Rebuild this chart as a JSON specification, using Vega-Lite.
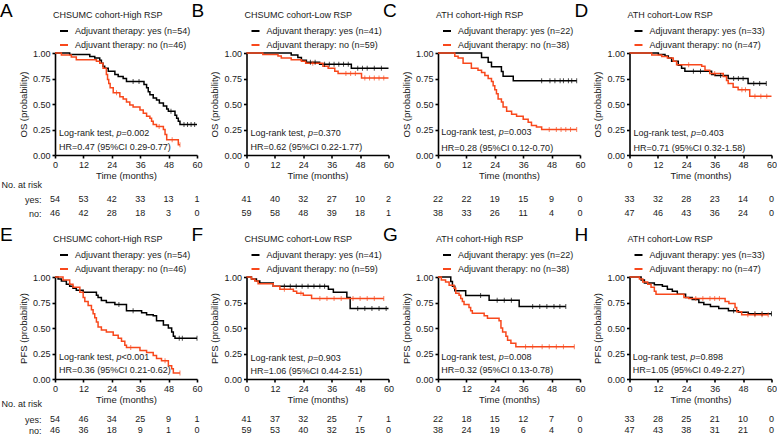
{
"$schema": "https://vega.github.io/schema/vega-lite/v6.json",
"background": "white",
"padding": {"left": 0, "top": 2, "right": 0, "bottom": 0},
"datasets": {
"km": [
{"p":"A","g":"yes","t":0,"s":1},{"p":"A","g":"yes","t":6.2,"s":0.985},{"p":"A","g":"yes","t":14.7,"s":0.965},{"p":"A","g":"yes","t":16.8,"s":0.95},{"p":"A","g":"yes","t":18.9,"s":0.93},{"p":"A","g":"yes","t":19.6,"s":0.9},{"p":"A","g":"yes","t":20.3,"s":0.87},{"p":"A","g":"yes","t":21,"s":0.85},{"p":"A","g":"yes","t":22.5,"s":0.82},{"p":"A","g":"yes","t":25.3,"s":0.79},{"p":"A","g":"yes","t":26.7,"s":0.77},{"p":"A","g":"yes","t":28.8,"s":0.75},{"p":"A","g":"yes","t":30.2,"s":0.72},{"p":"A","g":"yes","t":37.6,"s":0.69},{"p":"A","g":"yes","t":38.7,"s":0.66},{"p":"A","g":"yes","t":39.4,"s":0.62},{"p":"A","g":"yes","t":40.1,"s":0.59},{"p":"A","g":"yes","t":41.5,"s":0.56},{"p":"A","g":"yes","t":42.9,"s":0.54},{"p":"A","g":"yes","t":44.1,"s":0.51},{"p":"A","g":"yes","t":45.8,"s":0.48},{"p":"A","g":"yes","t":47.2,"s":0.45},{"p":"A","g":"yes","t":47.9,"s":0.43},{"p":"A","g":"yes","t":50.7,"s":0.39},{"p":"A","g":"yes","t":51.4,"s":0.36},{"p":"A","g":"yes","t":52.1,"s":0.33},{"p":"A","g":"yes","t":52.8,"s":0.3},{"p":"A","g":"yes","t":60,"s":0.3},
{"p":"A","g":"yes","t":33,"s":0.72,"c":1},{"p":"A","g":"yes","t":35.5,"s":0.72,"c":1},{"p":"A","g":"yes","t":49,"s":0.43,"c":1},{"p":"A","g":"yes","t":54.5,"s":0.3,"c":1},{"p":"A","g":"yes","t":56,"s":0.3,"c":1},{"p":"A","g":"yes","t":57.5,"s":0.3,"c":1},{"p":"A","g":"yes","t":59,"s":0.3,"c":1},
{"p":"A","g":"no","t":0,"s":1},{"p":"A","g":"no","t":2.7,"s":0.98},{"p":"A","g":"no","t":6.9,"s":0.96},{"p":"A","g":"no","t":9,"s":0.935},{"p":"A","g":"no","t":17.5,"s":0.92},{"p":"A","g":"no","t":18.9,"s":0.9},{"p":"A","g":"no","t":20.3,"s":0.85},{"p":"A","g":"no","t":21.7,"s":0.79},{"p":"A","g":"no","t":22.2,"s":0.74},{"p":"A","g":"no","t":22.7,"s":0.7},{"p":"A","g":"no","t":23.3,"s":0.66},{"p":"A","g":"no","t":24.6,"s":0.61},{"p":"A","g":"no","t":27.4,"s":0.57},{"p":"A","g":"no","t":28.8,"s":0.55},{"p":"A","g":"no","t":30.2,"s":0.52},{"p":"A","g":"no","t":31.6,"s":0.49},{"p":"A","g":"no","t":33,"s":0.47},{"p":"A","g":"no","t":35.9,"s":0.44},{"p":"A","g":"no","t":37.3,"s":0.41},{"p":"A","g":"no","t":38.7,"s":0.38},{"p":"A","g":"no","t":40.1,"s":0.36},{"p":"A","g":"no","t":40.8,"s":0.33},{"p":"A","g":"no","t":41.5,"s":0.3},{"p":"A","g":"no","t":42.9,"s":0.28},{"p":"A","g":"no","t":45.8,"s":0.25},{"p":"A","g":"no","t":46.5,"s":0.2},{"p":"A","g":"no","t":47.2,"s":0.15},{"p":"A","g":"no","t":52.1,"s":0.1},{"p":"A","g":"no","t":52.8,"s":0.1},
{"p":"A","g":"no","t":26,"s":0.61,"c":1},{"p":"A","g":"no","t":44,"s":0.28,"c":1},{"p":"A","g":"no","t":49.5,"s":0.15,"c":1},{"p":"A","g":"no","t":52.8,"s":0.1,"c":1},
{"p":"B","g":"yes","t":0,"s":1},{"p":"B","g":"yes","t":18.9,"s":0.98},{"p":"B","g":"yes","t":21.7,"s":0.955},{"p":"B","g":"yes","t":23.2,"s":0.93},{"p":"B","g":"yes","t":25.3,"s":0.91},{"p":"B","g":"yes","t":30.9,"s":0.89},{"p":"B","g":"yes","t":44.3,"s":0.85},{"p":"B","g":"yes","t":60,"s":0.85},
{"p":"B","g":"yes","t":27,"s":0.91,"c":1},{"p":"B","g":"yes","t":29,"s":0.91,"c":1},{"p":"B","g":"yes","t":33,"s":0.89,"c":1},{"p":"B","g":"yes","t":35,"s":0.89,"c":1},{"p":"B","g":"yes","t":37,"s":0.89,"c":1},{"p":"B","g":"yes","t":39,"s":0.89,"c":1},{"p":"B","g":"yes","t":41,"s":0.89,"c":1},{"p":"B","g":"yes","t":43,"s":0.89,"c":1},{"p":"B","g":"yes","t":47,"s":0.85,"c":1},{"p":"B","g":"yes","t":49,"s":0.85,"c":1},{"p":"B","g":"yes","t":51,"s":0.85,"c":1},{"p":"B","g":"yes","t":54,"s":0.85,"c":1},{"p":"B","g":"yes","t":57,"s":0.85,"c":1},
{"p":"B","g":"no","t":0,"s":1},{"p":"B","g":"no","t":6.9,"s":0.985},{"p":"B","g":"no","t":13.3,"s":0.97},{"p":"B","g":"no","t":14.7,"s":0.95},{"p":"B","g":"no","t":18.9,"s":0.935},{"p":"B","g":"no","t":23.2,"s":0.92},{"p":"B","g":"no","t":25,"s":0.9},{"p":"B","g":"no","t":32.3,"s":0.87},{"p":"B","g":"no","t":34.5,"s":0.85},{"p":"B","g":"no","t":37.3,"s":0.82},{"p":"B","g":"no","t":38.7,"s":0.8},{"p":"B","g":"no","t":48.6,"s":0.755},{"p":"B","g":"no","t":60,"s":0.755},
{"p":"B","g":"no","t":28,"s":0.9,"c":1},{"p":"B","g":"no","t":42,"s":0.8,"c":1},{"p":"B","g":"no","t":44,"s":0.8,"c":1},{"p":"B","g":"no","t":46,"s":0.8,"c":1},{"p":"B","g":"no","t":50,"s":0.755,"c":1},{"p":"B","g":"no","t":52,"s":0.755,"c":1},{"p":"B","g":"no","t":54,"s":0.755,"c":1},{"p":"B","g":"no","t":56,"s":0.755,"c":1},{"p":"B","g":"no","t":58,"s":0.755,"c":1},
{"p":"C","g":"yes","t":0,"s":1},{"p":"C","g":"yes","t":18.4,"s":0.955},{"p":"C","g":"yes","t":21.2,"s":0.91},{"p":"C","g":"yes","t":22.6,"s":0.864},{"p":"C","g":"yes","t":26.8,"s":0.818},{"p":"C","g":"yes","t":27.5,"s":0.773},{"p":"C","g":"yes","t":31.8,"s":0.727},{"p":"C","g":"yes","t":58.6,"s":0.727},
{"p":"C","g":"yes","t":43.8,"s":0.727,"c":1},{"p":"C","g":"yes","t":47.3,"s":0.727,"c":1},{"p":"C","g":"yes","t":49.4,"s":0.727,"c":1},{"p":"C","g":"yes","t":51.6,"s":0.727,"c":1},{"p":"C","g":"yes","t":53,"s":0.727,"c":1},{"p":"C","g":"yes","t":55.1,"s":0.727,"c":1},{"p":"C","g":"yes","t":56.5,"s":0.727,"c":1},{"p":"C","g":"yes","t":58.6,"s":0.727,"c":1},
{"p":"C","g":"no","t":0,"s":1},{"p":"C","g":"no","t":7.1,"s":0.967},{"p":"C","g":"no","t":8.5,"s":0.95},{"p":"C","g":"no","t":10.6,"s":0.9},{"p":"C","g":"no","t":14.1,"s":0.85},{"p":"C","g":"no","t":16.9,"s":0.83},{"p":"C","g":"no","t":18.4,"s":0.81},{"p":"C","g":"no","t":19.8,"s":0.78},{"p":"C","g":"no","t":21.2,"s":0.75},{"p":"C","g":"no","t":22.6,"s":0.72},{"p":"C","g":"no","t":23.3,"s":0.68},{"p":"C","g":"no","t":24,"s":0.64},{"p":"C","g":"no","t":24.7,"s":0.6},{"p":"C","g":"no","t":25.4,"s":0.55},{"p":"C","g":"no","t":26.8,"s":0.52},{"p":"C","g":"no","t":27.5,"s":0.47},{"p":"C","g":"no","t":29,"s":0.43},{"p":"C","g":"no","t":31.1,"s":0.4},{"p":"C","g":"no","t":33.2,"s":0.38},{"p":"C","g":"no","t":36,"s":0.35},{"p":"C","g":"no","t":38.1,"s":0.32},{"p":"C","g":"no","t":39.5,"s":0.29},{"p":"C","g":"no","t":41.6,"s":0.275},{"p":"C","g":"no","t":43.8,"s":0.25},{"p":"C","g":"no","t":58.6,"s":0.25},
{"p":"C","g":"no","t":47,"s":0.25,"c":1},{"p":"C","g":"no","t":50,"s":0.25,"c":1},{"p":"C","g":"no","t":52,"s":0.25,"c":1},{"p":"C","g":"no","t":54,"s":0.25,"c":1},{"p":"C","g":"no","t":56,"s":0.25,"c":1},{"p":"C","g":"no","t":58.6,"s":0.25,"c":1},
{"p":"D","g":"yes","t":0,"s":1},{"p":"D","g":"yes","t":12.2,"s":0.985},{"p":"D","g":"yes","t":15,"s":0.97},{"p":"D","g":"yes","t":16.4,"s":0.95},{"p":"D","g":"yes","t":17.8,"s":0.92},{"p":"D","g":"yes","t":20.6,"s":0.88},{"p":"D","g":"yes","t":22,"s":0.85},{"p":"D","g":"yes","t":23.4,"s":0.82},{"p":"D","g":"yes","t":34.7,"s":0.79},{"p":"D","g":"yes","t":36.1,"s":0.78},{"p":"D","g":"yes","t":41.7,"s":0.75},{"p":"D","g":"yes","t":50.1,"s":0.7},{"p":"D","g":"yes","t":57.8,"s":0.7},
{"p":"D","g":"yes","t":27,"s":0.82,"c":1},{"p":"D","g":"yes","t":30,"s":0.82,"c":1},{"p":"D","g":"yes","t":38.5,"s":0.78,"c":1},{"p":"D","g":"yes","t":44,"s":0.75,"c":1},{"p":"D","g":"yes","t":46,"s":0.75,"c":1},{"p":"D","g":"yes","t":48,"s":0.75,"c":1},{"p":"D","g":"yes","t":52.5,"s":0.7,"c":1},{"p":"D","g":"yes","t":55,"s":0.7,"c":1},{"p":"D","g":"yes","t":57.8,"s":0.7,"c":1},
{"p":"D","g":"no","t":0,"s":1},{"p":"D","g":"no","t":9.4,"s":0.98},{"p":"D","g":"no","t":13.6,"s":0.965},{"p":"D","g":"no","t":16,"s":0.95},{"p":"D","g":"no","t":18.5,"s":0.92},{"p":"D","g":"no","t":19.9,"s":0.885},{"p":"D","g":"no","t":30.5,"s":0.87},{"p":"D","g":"no","t":31.9,"s":0.83},{"p":"D","g":"no","t":33.9,"s":0.8},{"p":"D","g":"no","t":39.6,"s":0.77},{"p":"D","g":"no","t":41,"s":0.73},{"p":"D","g":"no","t":41.7,"s":0.7},{"p":"D","g":"no","t":43.8,"s":0.665},{"p":"D","g":"no","t":45.9,"s":0.64},{"p":"D","g":"no","t":50.8,"s":0.575},{"p":"D","g":"no","t":60,"s":0.575},
{"p":"D","g":"no","t":25,"s":0.885,"c":1},{"p":"D","g":"no","t":36,"s":0.8,"c":1},{"p":"D","g":"no","t":47.5,"s":0.64,"c":1},{"p":"D","g":"no","t":49,"s":0.64,"c":1},{"p":"D","g":"no","t":53,"s":0.575,"c":1},{"p":"D","g":"no","t":55.5,"s":0.575,"c":1},{"p":"D","g":"no","t":58,"s":0.575,"c":1},
{"p":"E","g":"yes","t":0,"s":1},{"p":"E","g":"yes","t":1.3,"s":0.98},{"p":"E","g":"yes","t":2.7,"s":0.96},{"p":"E","g":"yes","t":4.8,"s":0.93},{"p":"E","g":"yes","t":6.2,"s":0.91},{"p":"E","g":"yes","t":7.6,"s":0.89},{"p":"E","g":"yes","t":9,"s":0.87},{"p":"E","g":"yes","t":11.9,"s":0.85},{"p":"E","g":"yes","t":17.5,"s":0.82},{"p":"E","g":"yes","t":18.2,"s":0.8},{"p":"E","g":"yes","t":19.6,"s":0.77},{"p":"E","g":"yes","t":21.7,"s":0.75},{"p":"E","g":"yes","t":25.3,"s":0.73},{"p":"E","g":"yes","t":30.2,"s":0.67},{"p":"E","g":"yes","t":36.6,"s":0.65},{"p":"E","g":"yes","t":38.7,"s":0.63},{"p":"E","g":"yes","t":41.5,"s":0.62},{"p":"E","g":"yes","t":42.9,"s":0.57},{"p":"E","g":"yes","t":45.8,"s":0.53},{"p":"E","g":"yes","t":47.9,"s":0.5},{"p":"E","g":"yes","t":49.3,"s":0.46},{"p":"E","g":"yes","t":50,"s":0.42},{"p":"E","g":"yes","t":50.7,"s":0.4},{"p":"E","g":"yes","t":60,"s":0.4},
{"p":"E","g":"yes","t":27,"s":0.73,"c":1},{"p":"E","g":"yes","t":33,"s":0.67,"c":1},{"p":"E","g":"yes","t":52.5,"s":0.4,"c":1},{"p":"E","g":"yes","t":53.8,"s":0.4,"c":1},{"p":"E","g":"yes","t":60,"s":0.4,"c":1},
{"p":"E","g":"no","t":0,"s":1},{"p":"E","g":"no","t":3.4,"s":0.97},{"p":"E","g":"no","t":6.2,"s":0.93},{"p":"E","g":"no","t":7.6,"s":0.9},{"p":"E","g":"no","t":10.5,"s":0.85},{"p":"E","g":"no","t":11.9,"s":0.8},{"p":"E","g":"no","t":12.6,"s":0.76},{"p":"E","g":"no","t":14,"s":0.72},{"p":"E","g":"no","t":15.4,"s":0.68},{"p":"E","g":"no","t":16.1,"s":0.64},{"p":"E","g":"no","t":16.8,"s":0.6},{"p":"E","g":"no","t":17.5,"s":0.56},{"p":"E","g":"no","t":18.2,"s":0.51},{"p":"E","g":"no","t":19.6,"s":0.48},{"p":"E","g":"no","t":21.7,"s":0.46},{"p":"E","g":"no","t":24.6,"s":0.43},{"p":"E","g":"no","t":26.7,"s":0.4},{"p":"E","g":"no","t":28.1,"s":0.37},{"p":"E","g":"no","t":29.5,"s":0.33},{"p":"E","g":"no","t":30.2,"s":0.31},{"p":"E","g":"no","t":35.9,"s":0.28},{"p":"E","g":"no","t":38.7,"s":0.26},{"p":"E","g":"no","t":41.5,"s":0.23},{"p":"E","g":"no","t":42.9,"s":0.2},{"p":"E","g":"no","t":45,"s":0.18},{"p":"E","g":"no","t":47.9,"s":0.13},{"p":"E","g":"no","t":49.3,"s":0.1},{"p":"E","g":"no","t":50,"s":0.06},{"p":"E","g":"no","t":52.8,"s":0.06},
{"p":"E","g":"no","t":32,"s":0.31,"c":1},{"p":"E","g":"no","t":46.5,"s":0.18,"c":1},{"p":"E","g":"no","t":52.8,"s":0.06,"c":1},
{"p":"F","g":"yes","t":0,"s":1},{"p":"F","g":"yes","t":2.1,"s":0.98},{"p":"F","g":"yes","t":4.2,"s":0.96},{"p":"F","g":"yes","t":5.6,"s":0.94},{"p":"F","g":"yes","t":11.3,"s":0.91},{"p":"F","g":"yes","t":34.6,"s":0.88},{"p":"F","g":"yes","t":36.7,"s":0.85},{"p":"F","g":"yes","t":42.4,"s":0.8},{"p":"F","g":"yes","t":43.8,"s":0.69},{"p":"F","g":"yes","t":60,"s":0.69},
{"p":"F","g":"yes","t":16,"s":0.91,"c":1},{"p":"F","g":"yes","t":18.5,"s":0.91,"c":1},{"p":"F","g":"yes","t":21,"s":0.91,"c":1},{"p":"F","g":"yes","t":23.5,"s":0.91,"c":1},{"p":"F","g":"yes","t":26,"s":0.91,"c":1},{"p":"F","g":"yes","t":28.5,"s":0.91,"c":1},{"p":"F","g":"yes","t":31,"s":0.91,"c":1},{"p":"F","g":"yes","t":33,"s":0.91,"c":1},{"p":"F","g":"yes","t":47,"s":0.69,"c":1},{"p":"F","g":"yes","t":50,"s":0.69,"c":1},{"p":"F","g":"yes","t":53,"s":0.69,"c":1},{"p":"F","g":"yes","t":56,"s":0.69,"c":1},{"p":"F","g":"yes","t":59,"s":0.69,"c":1},
{"p":"F","g":"no","t":0,"s":1},{"p":"F","g":"no","t":2.1,"s":0.98},{"p":"F","g":"no","t":3.5,"s":0.96},{"p":"F","g":"no","t":4.9,"s":0.935},{"p":"F","g":"no","t":11.3,"s":0.91},{"p":"F","g":"no","t":14.1,"s":0.88},{"p":"F","g":"no","t":19.8,"s":0.86},{"p":"F","g":"no","t":21.2,"s":0.84},{"p":"F","g":"no","t":24,"s":0.82},{"p":"F","g":"no","t":27.5,"s":0.79},{"p":"F","g":"no","t":58,"s":0.79},
{"p":"F","g":"no","t":16,"s":0.88,"c":1},{"p":"F","g":"no","t":23,"s":0.84,"c":1},{"p":"F","g":"no","t":31,"s":0.79,"c":1},{"p":"F","g":"no","t":34,"s":0.79,"c":1},{"p":"F","g":"no","t":37,"s":0.79,"c":1},{"p":"F","g":"no","t":40,"s":0.79,"c":1},{"p":"F","g":"no","t":45,"s":0.79,"c":1},{"p":"F","g":"no","t":48,"s":0.79,"c":1},{"p":"F","g":"no","t":51,"s":0.79,"c":1},{"p":"F","g":"no","t":54,"s":0.79,"c":1},{"p":"F","g":"no","t":58,"s":0.79,"c":1},
{"p":"G","g":"yes","t":0,"s":1},{"p":"G","g":"yes","t":5.4,"s":0.955},{"p":"G","g":"yes","t":6.1,"s":0.909},{"p":"G","g":"yes","t":7.1,"s":0.864},{"p":"G","g":"yes","t":11.7,"s":0.818},{"p":"G","g":"yes","t":21.6,"s":0.773},{"p":"G","g":"yes","t":34.3,"s":0.71},{"p":"G","g":"yes","t":54,"s":0.71},
{"p":"G","g":"yes","t":18,"s":0.818,"c":1},{"p":"G","g":"yes","t":25,"s":0.773,"c":1},{"p":"G","g":"yes","t":28,"s":0.773,"c":1},{"p":"G","g":"yes","t":31,"s":0.773,"c":1},{"p":"G","g":"yes","t":40,"s":0.71,"c":1},{"p":"G","g":"yes","t":43,"s":0.71,"c":1},{"p":"G","g":"yes","t":46,"s":0.71,"c":1},{"p":"G","g":"yes","t":49,"s":0.71,"c":1},{"p":"G","g":"yes","t":51.5,"s":0.71,"c":1},{"p":"G","g":"yes","t":54,"s":0.71,"c":1},
{"p":"G","g":"no","t":0,"s":1},{"p":"G","g":"no","t":1.4,"s":0.97},{"p":"G","g":"no","t":3.2,"s":0.95},{"p":"G","g":"no","t":4.7,"s":0.92},{"p":"G","g":"no","t":6.8,"s":0.89},{"p":"G","g":"no","t":7.5,"s":0.84},{"p":"G","g":"no","t":8.9,"s":0.82},{"p":"G","g":"no","t":9.6,"s":0.79},{"p":"G","g":"no","t":10.3,"s":0.76},{"p":"G","g":"no","t":11,"s":0.73},{"p":"G","g":"no","t":13.1,"s":0.7},{"p":"G","g":"no","t":13.8,"s":0.67},{"p":"G","g":"no","t":14.5,"s":0.645},{"p":"G","g":"no","t":19.5,"s":0.62},{"p":"G","g":"no","t":20.9,"s":0.595},{"p":"G","g":"no","t":25.8,"s":0.57},{"p":"G","g":"no","t":26.6,"s":0.5},{"p":"G","g":"no","t":27.3,"s":0.46},{"p":"G","g":"no","t":28.7,"s":0.42},{"p":"G","g":"no","t":29.4,"s":0.38},{"p":"G","g":"no","t":30.8,"s":0.35},{"p":"G","g":"no","t":32.9,"s":0.315},{"p":"G","g":"no","t":57.6,"s":0.315},
{"p":"G","g":"no","t":37,"s":0.315,"c":1},{"p":"G","g":"no","t":40,"s":0.315,"c":1},{"p":"G","g":"no","t":44,"s":0.315,"c":1},{"p":"G","g":"no","t":47,"s":0.315,"c":1},{"p":"G","g":"no","t":50,"s":0.315,"c":1},{"p":"G","g":"no","t":53,"s":0.315,"c":1},{"p":"G","g":"no","t":57.6,"s":0.315,"c":1},
{"p":"H","g":"yes","t":0,"s":1},{"p":"H","g":"yes","t":4.9,"s":0.97},{"p":"H","g":"yes","t":6.3,"s":0.94},{"p":"H","g":"yes","t":10.5,"s":0.925},{"p":"H","g":"yes","t":13.9,"s":0.91},{"p":"H","g":"yes","t":16,"s":0.88},{"p":"H","g":"yes","t":18.1,"s":0.86},{"p":"H","g":"yes","t":20.2,"s":0.83},{"p":"H","g":"yes","t":23.7,"s":0.8},{"p":"H","g":"yes","t":26.5,"s":0.78},{"p":"H","g":"yes","t":29.3,"s":0.75},{"p":"H","g":"yes","t":31.4,"s":0.73},{"p":"H","g":"yes","t":34.2,"s":0.71},{"p":"H","g":"yes","t":37.7,"s":0.69},{"p":"H","g":"yes","t":41.8,"s":0.67},{"p":"H","g":"yes","t":46,"s":0.655},{"p":"H","g":"yes","t":50.2,"s":0.64},{"p":"H","g":"yes","t":60,"s":0.64},
{"p":"H","g":"yes","t":44,"s":0.67,"c":1},{"p":"H","g":"yes","t":53,"s":0.64,"c":1},{"p":"H","g":"yes","t":56,"s":0.64,"c":1},{"p":"H","g":"yes","t":60,"s":0.64,"c":1},
{"p":"H","g":"no","t":0,"s":1},{"p":"H","g":"no","t":4.2,"s":0.98},{"p":"H","g":"no","t":5.6,"s":0.95},{"p":"H","g":"no","t":7.7,"s":0.93},{"p":"H","g":"no","t":9.1,"s":0.9},{"p":"H","g":"no","t":10.5,"s":0.86},{"p":"H","g":"no","t":11.2,"s":0.83},{"p":"H","g":"no","t":23,"s":0.8},{"p":"H","g":"no","t":25,"s":0.79},{"p":"H","g":"no","t":40.4,"s":0.76},{"p":"H","g":"no","t":42,"s":0.74},{"p":"H","g":"no","t":44.6,"s":0.7},{"p":"H","g":"no","t":45.3,"s":0.66},{"p":"H","g":"no","t":47.4,"s":0.63},{"p":"H","g":"no","t":58.6,"s":0.63},
{"p":"H","g":"no","t":28,"s":0.79,"c":1},{"p":"H","g":"no","t":31,"s":0.79,"c":1},{"p":"H","g":"no","t":34,"s":0.79,"c":1},{"p":"H","g":"no","t":36,"s":0.79,"c":1},{"p":"H","g":"no","t":38,"s":0.79,"c":1},{"p":"H","g":"no","t":50,"s":0.63,"c":1},{"p":"H","g":"no","t":53,"s":0.63,"c":1},{"p":"H","g":"no","t":56,"s":0.63,"c":1},{"p":"H","g":"no","t":58.6,"s":0.63,"c":1}
],
"risk": [
{"p":"A","g":"yes","t":0,"n":54},{"p":"A","g":"yes","t":12,"n":53},{"p":"A","g":"yes","t":24,"n":42},{"p":"A","g":"yes","t":36,"n":33},{"p":"A","g":"yes","t":48,"n":13},{"p":"A","g":"yes","t":60,"n":1},
{"p":"A","g":"no","t":0,"n":46},{"p":"A","g":"no","t":12,"n":42},{"p":"A","g":"no","t":24,"n":28},{"p":"A","g":"no","t":36,"n":18},{"p":"A","g":"no","t":48,"n":3},{"p":"A","g":"no","t":60,"n":0},
{"p":"B","g":"yes","t":0,"n":41},{"p":"B","g":"yes","t":12,"n":40},{"p":"B","g":"yes","t":24,"n":32},{"p":"B","g":"yes","t":36,"n":27},{"p":"B","g":"yes","t":48,"n":10},{"p":"B","g":"yes","t":60,"n":2},
{"p":"B","g":"no","t":0,"n":59},{"p":"B","g":"no","t":12,"n":58},{"p":"B","g":"no","t":24,"n":48},{"p":"B","g":"no","t":36,"n":39},{"p":"B","g":"no","t":48,"n":18},{"p":"B","g":"no","t":60,"n":1},
{"p":"C","g":"yes","t":0,"n":22},{"p":"C","g":"yes","t":12,"n":22},{"p":"C","g":"yes","t":24,"n":19},{"p":"C","g":"yes","t":36,"n":15},{"p":"C","g":"yes","t":48,"n":9},{"p":"C","g":"yes","t":60,"n":0},
{"p":"C","g":"no","t":0,"n":38},{"p":"C","g":"no","t":12,"n":33},{"p":"C","g":"no","t":24,"n":26},{"p":"C","g":"no","t":36,"n":11},{"p":"C","g":"no","t":48,"n":4},{"p":"C","g":"no","t":60,"n":0},
{"p":"D","g":"yes","t":0,"n":33},{"p":"D","g":"yes","t":12,"n":32},{"p":"D","g":"yes","t":24,"n":28},{"p":"D","g":"yes","t":36,"n":23},{"p":"D","g":"yes","t":48,"n":14},{"p":"D","g":"yes","t":60,"n":0},
{"p":"D","g":"no","t":0,"n":47},{"p":"D","g":"no","t":12,"n":46},{"p":"D","g":"no","t":24,"n":43},{"p":"D","g":"no","t":36,"n":36},{"p":"D","g":"no","t":48,"n":24},{"p":"D","g":"no","t":60,"n":0},
{"p":"E","g":"yes","t":0,"n":54},{"p":"E","g":"yes","t":12,"n":46},{"p":"E","g":"yes","t":24,"n":34},{"p":"E","g":"yes","t":36,"n":25},{"p":"E","g":"yes","t":48,"n":9},{"p":"E","g":"yes","t":60,"n":1},
{"p":"E","g":"no","t":0,"n":46},{"p":"E","g":"no","t":12,"n":36},{"p":"E","g":"no","t":24,"n":18},{"p":"E","g":"no","t":36,"n":9},{"p":"E","g":"no","t":48,"n":1},{"p":"E","g":"no","t":60,"n":0},
{"p":"F","g":"yes","t":0,"n":41},{"p":"F","g":"yes","t":12,"n":37},{"p":"F","g":"yes","t":24,"n":32},{"p":"F","g":"yes","t":36,"n":25},{"p":"F","g":"yes","t":48,"n":7},{"p":"F","g":"yes","t":60,"n":1},
{"p":"F","g":"no","t":0,"n":59},{"p":"F","g":"no","t":12,"n":53},{"p":"F","g":"no","t":24,"n":40},{"p":"F","g":"no","t":36,"n":32},{"p":"F","g":"no","t":48,"n":15},{"p":"F","g":"no","t":60,"n":0},
{"p":"G","g":"yes","t":0,"n":22},{"p":"G","g":"yes","t":12,"n":18},{"p":"G","g":"yes","t":24,"n":15},{"p":"G","g":"yes","t":36,"n":12},{"p":"G","g":"yes","t":48,"n":7},{"p":"G","g":"yes","t":60,"n":0},
{"p":"G","g":"no","t":0,"n":38},{"p":"G","g":"no","t":12,"n":24},{"p":"G","g":"no","t":24,"n":19},{"p":"G","g":"no","t":36,"n":6},{"p":"G","g":"no","t":48,"n":4},{"p":"G","g":"no","t":60,"n":0},
{"p":"H","g":"yes","t":0,"n":33},{"p":"H","g":"yes","t":12,"n":28},{"p":"H","g":"yes","t":24,"n":25},{"p":"H","g":"yes","t":36,"n":21},{"p":"H","g":"yes","t":48,"n":10},{"p":"H","g":"yes","t":60,"n":0},
{"p":"H","g":"no","t":0,"n":47},{"p":"H","g":"no","t":12,"n":43},{"p":"H","g":"no","t":24,"n":38},{"p":"H","g":"no","t":36,"n":31},{"p":"H","g":"no","t":48,"n":21},{"p":"H","g":"no","t":60,"n":0}
],
"ann": [
{"p":"A","k":"a","txt":"Log-rank test, "},{"p":"A","k":"b","txt":"p"},{"p":"A","k":"c","txt":"=0.002"},{"p":"A","k":"d","txt":"HR=0.47 (95%CI 0.29-0.77)"},
{"p":"B","k":"a","txt":"Log-rank test, "},{"p":"B","k":"b","txt":"p"},{"p":"B","k":"c","txt":"=0.370"},{"p":"B","k":"d","txt":"HR=0.62 (95%CI 0.22-1.77)"},
{"p":"C","k":"a","txt":"Log-rank test, "},{"p":"C","k":"b","txt":"p"},{"p":"C","k":"c","txt":"=0.003"},{"p":"C","k":"d","txt":"HR=0.28 (95%CI 0.12-0.70)"},
{"p":"D","k":"a","txt":"Log-rank test, "},{"p":"D","k":"b","txt":"p"},{"p":"D","k":"c","txt":"=0.403"},{"p":"D","k":"d","txt":"HR=0.71 (95%CI 0.32-1.58)"},
{"p":"E","k":"a","txt":"Log-rank test, "},{"p":"E","k":"b","txt":"p"},{"p":"E","k":"c","txt":"<0.001"},{"p":"E","k":"d","txt":"HR=0.36 (95%CI 0.21-0.62)"},
{"p":"F","k":"a","txt":"Log-rank test, "},{"p":"F","k":"b","txt":"p"},{"p":"F","k":"c","txt":"=0.903"},{"p":"F","k":"d","txt":"HR=1.06 (95%CI 0.44-2.51)"},
{"p":"G","k":"a","txt":"Log-rank test, "},{"p":"G","k":"b","txt":"p"},{"p":"G","k":"c","txt":"=0.008"},{"p":"G","k":"d","txt":"HR=0.32 (95%CI 0.13-0.78)"},
{"p":"H","k":"a","txt":"Log-rank test, "},{"p":"H","k":"b","txt":"p"},{"p":"H","k":"c","txt":"=0.898"},{"p":"H","k":"d","txt":"HR=1.05 (95%CI 0.49-2.27)"}
]
},
"config": {
"view": {"stroke": null},
"font": "Liberation Sans",
"axis": {"domainColor": "#000", "domainWidth": 1.6, "tickColor": "#000", "tickWidth": 1.6, "tickSize": 3, "labelFont": "Liberation Sans", "labelFontSize": 9, "labelColor": "#1a1a1a", "labelPadding": 2, "labelFlush": false, "labelOverlap": false, "titleFont": "Liberation Sans", "titleFontSize": 9.5, "titleFontWeight": "normal", "titleColor": "#1a1a1a", "grid": false},
"axisX": {"titlePadding": 1},
"axisY": {"titlePadding": 4},
"legend": {"orient": "none", "legendX": -2, "legendY": -42, "direction": "vertical", "symbolType": "stroke", "symbolSize": 64, "symbolStrokeWidth": 2, "labelFont": "Liberation Sans", "labelFontSize": 9, "labelColor": "#1a1a1a", "titleFont": "Liberation Sans", "titleFontSize": 9, "titleFontWeight": "normal", "titleColor": "#1a1a1a", "titlePadding": 6, "rowPadding": 4, "symbolOffset": 6, "labelOffset": 6, "padding": 0},
"title": {"anchor": "start", "frame": "group", "font": "Liberation Sans", "fontSize": 19, "fontWeight": "normal", "color": "#000", "dx": -55, "offset": -10, "baseline": "alphabetic"},
"text": {"font": "Liberation Sans", "fontSize": 9, "color": "#1a1a1a"},
"tick": {"thickness": 1}
},
"columns": 4,
"spacing": {"row": 122, "column": 49.5},
"bounds": "flush",
"resolve": {"scale": {"color": "independent", "x": "independent", "y": "independent"}, "legend": {"color": "independent"}},
"concat": [
{"width": 142, "height": 102, "title": {"text": "A"},
 "layer": [
  {"layer": [
   {"data": {"name": "km"}, "transform": [{"filter": "datum.p=='A'"}], "mark": {"type": "line", "interpolate": "step-after", "strokeWidth": 1.5},
    "encoding": {"x": {"field": "t", "type": "quantitative", "scale": {"domain": [0, 60], "nice": false}, "axis": {"values": [0, 12, 24, 36, 48, 60], "title": "Time (months)"}},
     "y": {"field": "s", "type": "quantitative", "scale": {"domain": [0, 1], "nice": false}, "axis": {"title": "OS (probability)", "values": [0, 0.25, 0.5, 0.75, 1], "format": ".2f"}},
     "color": {"field": "g", "type": "nominal", "scale": {"domain": ["yes", "no"], "range": ["#000000", "#f8481c"]}, "legend": {"title": "CHSUMC cohort-High RSP", "labelExpr": "datum.label=='yes' ? 'Adjuvant therapy: yes (n=54)' : 'Adjuvant therapy: no (n=46)'"}}}},
   {"data": {"name": "km"}, "transform": [{"filter": "datum.p=='A' && datum.c==1"}], "mark": {"type": "tick", "orient": "vertical", "size": 5, "thickness": 1},
    "encoding": {"x": {"field": "t", "type": "quantitative", "axis": {"values": [0, 12, 24, 36, 48, 60], "title": "Time (months)"}}, "y": {"field": "s", "type": "quantitative", "axis": {"title": "OS (probability)", "values": [0, 0.25, 0.5, 0.75, 1], "format": ".2f"}}, "color": {"field": "g", "type": "nominal", "legend": null}}},
   {"data": {"name": "ann"}, "transform": [{"filter": "datum.p=='A' && datum.k=='a'"}], "mark": {"type": "text", "align": "left", "baseline": "middle"}, "encoding": {"x": {"datum": 1.7, "axis": {"values": [0, 12, 24, 36, 48, 60], "title": "Time (months)"}}, "y": {"datum": 0.215, "axis": {"title": "OS (probability)", "values": [0, 0.25, 0.5, 0.75, 1], "format": ".2f"}}, "text": {"field": "txt", "type": "nominal"}}},
   {"data": {"name": "ann"}, "transform": [{"filter": "datum.p=='A' && datum.k=='b'"}], "mark": {"type": "text", "align": "left", "baseline": "middle", "fontStyle": "italic", "dx": 57.5}, "encoding": {"x": {"datum": 1.7, "axis": {"values": [0, 12, 24, 36, 48, 60], "title": "Time (months)"}}, "y": {"datum": 0.215, "axis": {"title": "OS (probability)", "values": [0, 0.25, 0.5, 0.75, 1], "format": ".2f"}}, "text": {"field": "txt", "type": "nominal"}}},
   {"data": {"name": "ann"}, "transform": [{"filter": "datum.p=='A' && datum.k=='c'"}], "mark": {"type": "text", "align": "left", "baseline": "middle", "dx": 62.5}, "encoding": {"x": {"datum": 1.7, "axis": {"values": [0, 12, 24, 36, 48, 60], "title": "Time (months)"}}, "y": {"datum": 0.215, "axis": {"title": "OS (probability)", "values": [0, 0.25, 0.5, 0.75, 1], "format": ".2f"}}, "text": {"field": "txt", "type": "nominal"}}},
   {"data": {"name": "ann"}, "transform": [{"filter": "datum.p=='A' && datum.k=='d'"}], "mark": {"type": "text", "align": "left", "baseline": "middle"}, "encoding": {"x": {"datum": 1.7, "axis": {"values": [0, 12, 24, 36, 48, 60], "title": "Time (months)"}}, "y": {"datum": 0.08, "axis": {"title": "OS (probability)", "values": [0, 0.25, 0.5, 0.75, 1], "format": ".2f"}}, "text": {"field": "txt", "type": "nominal"}}}
  ]},
  {"data": {"name": "risk"}, "transform": [{"filter": "datum.p=='A'"}], "mark": {"type": "text", "align": "center", "baseline": "middle"},
   "encoding": {"x": {"field": "t", "type": "quantitative", "axis": {"values": [0, 12, 24, 36, 48, 60], "title": "Time (months)"}}, "y": {"field": "g", "type": "nominal", "scale": {"type": "point", "domain": ["yes", "no"], "range": [146, 160], "padding": 0},
     "axis": {"orient": "left", "domain": false, "ticks": false, "labelPadding": 14, "labelExpr": "datum.value + ':'", "title": "No. at risk", "titleAngle": 0, "titleAlign": "left", "titleBaseline": "middle", "titleX": -54, "titleY": 131, "titleFontSize": 9}},
    "text": {"field": "n", "type": "quantitative"}}}
 ],
 "resolve": {"scale": {"y": "independent"}}},
{"width": 142, "height": 102, "title": {"text": "B"},
 "layer": [
  {"layer": [
   {"data": {"name": "km"}, "transform": [{"filter": "datum.p=='B'"}], "mark": {"type": "line", "interpolate": "step-after", "strokeWidth": 1.5},
    "encoding": {"x": {"field": "t", "type": "quantitative", "scale": {"domain": [0, 60], "nice": false}, "axis": {"values": [0, 12, 24, 36, 48, 60], "title": "Time (months)"}},
     "y": {"field": "s", "type": "quantitative", "scale": {"domain": [0, 1], "nice": false}, "axis": {"title": "OS (probability)", "values": [0, 0.25, 0.5, 0.75, 1], "format": ".2f"}},
     "color": {"field": "g", "type": "nominal", "scale": {"domain": ["yes", "no"], "range": ["#000000", "#f8481c"]}, "legend": {"title": "CHSUMC cohort-Low RSP", "labelExpr": "datum.label=='yes' ? 'Adjuvant therapy: yes (n=41)' : 'Adjuvant therapy: no (n=59)'"}}}},
   {"data": {"name": "km"}, "transform": [{"filter": "datum.p=='B' && datum.c==1"}], "mark": {"type": "tick", "orient": "vertical", "size": 5, "thickness": 1},
    "encoding": {"x": {"field": "t", "type": "quantitative", "axis": {"values": [0, 12, 24, 36, 48, 60], "title": "Time (months)"}}, "y": {"field": "s", "type": "quantitative", "axis": {"title": "OS (probability)", "values": [0, 0.25, 0.5, 0.75, 1], "format": ".2f"}}, "color": {"field": "g", "type": "nominal", "legend": null}}},
   {"data": {"name": "ann"}, "transform": [{"filter": "datum.p=='B' && datum.k=='a'"}], "mark": {"type": "text", "align": "left", "baseline": "middle"}, "encoding": {"x": {"datum": 1.7, "axis": {"values": [0, 12, 24, 36, 48, 60], "title": "Time (months)"}}, "y": {"datum": 0.215, "axis": {"title": "OS (probability)", "values": [0, 0.25, 0.5, 0.75, 1], "format": ".2f"}}, "text": {"field": "txt", "type": "nominal"}}},
   {"data": {"name": "ann"}, "transform": [{"filter": "datum.p=='B' && datum.k=='b'"}], "mark": {"type": "text", "align": "left", "baseline": "middle", "fontStyle": "italic", "dx": 57.5}, "encoding": {"x": {"datum": 1.7, "axis": {"values": [0, 12, 24, 36, 48, 60], "title": "Time (months)"}}, "y": {"datum": 0.215, "axis": {"title": "OS (probability)", "values": [0, 0.25, 0.5, 0.75, 1], "format": ".2f"}}, "text": {"field": "txt", "type": "nominal"}}},
   {"data": {"name": "ann"}, "transform": [{"filter": "datum.p=='B' && datum.k=='c'"}], "mark": {"type": "text", "align": "left", "baseline": "middle", "dx": 62.5}, "encoding": {"x": {"datum": 1.7, "axis": {"values": [0, 12, 24, 36, 48, 60], "title": "Time (months)"}}, "y": {"datum": 0.215, "axis": {"title": "OS (probability)", "values": [0, 0.25, 0.5, 0.75, 1], "format": ".2f"}}, "text": {"field": "txt", "type": "nominal"}}},
   {"data": {"name": "ann"}, "transform": [{"filter": "datum.p=='B' && datum.k=='d'"}], "mark": {"type": "text", "align": "left", "baseline": "middle"}, "encoding": {"x": {"datum": 1.7, "axis": {"values": [0, 12, 24, 36, 48, 60], "title": "Time (months)"}}, "y": {"datum": 0.08, "axis": {"title": "OS (probability)", "values": [0, 0.25, 0.5, 0.75, 1], "format": ".2f"}}, "text": {"field": "txt", "type": "nominal"}}}
  ]},
  {"data": {"name": "risk"}, "transform": [{"filter": "datum.p=='B'"}], "mark": {"type": "text", "align": "center", "baseline": "middle"},
   "encoding": {"x": {"field": "t", "type": "quantitative", "axis": {"values": [0, 12, 24, 36, 48, 60], "title": "Time (months)"}}, "y": {"field": "g", "type": "nominal", "scale": {"type": "point", "domain": ["yes", "no"], "range": [146, 160], "padding": 0}, "axis": null},
    "text": {"field": "n", "type": "quantitative"}}}
 ],
 "resolve": {"scale": {"y": "independent"}}},
{"width": 142, "height": 102, "title": {"text": "C"},
 "layer": [
  {"layer": [
   {"data": {"name": "km"}, "transform": [{"filter": "datum.p=='C'"}], "mark": {"type": "line", "interpolate": "step-after", "strokeWidth": 1.5},
    "encoding": {"x": {"field": "t", "type": "quantitative", "scale": {"domain": [0, 60], "nice": false}, "axis": {"values": [0, 12, 24, 36, 48, 60], "title": "Time (months)"}},
     "y": {"field": "s", "type": "quantitative", "scale": {"domain": [0, 1], "nice": false}, "axis": {"title": "OS (probability)", "values": [0, 0.25, 0.5, 0.75, 1], "format": ".2f"}},
     "color": {"field": "g", "type": "nominal", "scale": {"domain": ["yes", "no"], "range": ["#000000", "#f8481c"]}, "legend": {"title": "ATH cohort-High RSP", "labelExpr": "datum.label=='yes' ? 'Adjuvant therapy: yes (n=22)' : 'Adjuvant therapy: no (n=38)'"}}}},
   {"data": {"name": "km"}, "transform": [{"filter": "datum.p=='C' && datum.c==1"}], "mark": {"type": "tick", "orient": "vertical", "size": 5, "thickness": 1},
    "encoding": {"x": {"field": "t", "type": "quantitative", "axis": {"values": [0, 12, 24, 36, 48, 60], "title": "Time (months)"}}, "y": {"field": "s", "type": "quantitative", "axis": {"title": "OS (probability)", "values": [0, 0.25, 0.5, 0.75, 1], "format": ".2f"}}, "color": {"field": "g", "type": "nominal", "legend": null}}},
   {"data": {"name": "ann"}, "transform": [{"filter": "datum.p=='C' && datum.k=='a'"}], "mark": {"type": "text", "align": "left", "baseline": "middle"}, "encoding": {"x": {"datum": 1.4, "axis": {"values": [0, 12, 24, 36, 48, 60], "title": "Time (months)"}}, "y": {"datum": 0.225, "axis": {"title": "OS (probability)", "values": [0, 0.25, 0.5, 0.75, 1], "format": ".2f"}}, "text": {"field": "txt", "type": "nominal"}}},
   {"data": {"name": "ann"}, "transform": [{"filter": "datum.p=='C' && datum.k=='b'"}], "mark": {"type": "text", "align": "left", "baseline": "middle", "fontStyle": "italic", "dx": 57.5}, "encoding": {"x": {"datum": 1.4, "axis": {"values": [0, 12, 24, 36, 48, 60], "title": "Time (months)"}}, "y": {"datum": 0.225, "axis": {"title": "OS (probability)", "values": [0, 0.25, 0.5, 0.75, 1], "format": ".2f"}}, "text": {"field": "txt", "type": "nominal"}}},
   {"data": {"name": "ann"}, "transform": [{"filter": "datum.p=='C' && datum.k=='c'"}], "mark": {"type": "text", "align": "left", "baseline": "middle", "dx": 62.5}, "encoding": {"x": {"datum": 1.4, "axis": {"values": [0, 12, 24, 36, 48, 60], "title": "Time (months)"}}, "y": {"datum": 0.225, "axis": {"title": "OS (probability)", "values": [0, 0.25, 0.5, 0.75, 1], "format": ".2f"}}, "text": {"field": "txt", "type": "nominal"}}},
   {"data": {"name": "ann"}, "transform": [{"filter": "datum.p=='C' && datum.k=='d'"}], "mark": {"type": "text", "align": "left", "baseline": "middle"}, "encoding": {"x": {"datum": 1.4, "axis": {"values": [0, 12, 24, 36, 48, 60], "title": "Time (months)"}}, "y": {"datum": 0.07, "axis": {"title": "OS (probability)", "values": [0, 0.25, 0.5, 0.75, 1], "format": ".2f"}}, "text": {"field": "txt", "type": "nominal"}}}
  ]},
  {"data": {"name": "risk"}, "transform": [{"filter": "datum.p=='C'"}], "mark": {"type": "text", "align": "center", "baseline": "middle"},
   "encoding": {"x": {"field": "t", "type": "quantitative", "axis": {"values": [0, 12, 24, 36, 48, 60], "title": "Time (months)"}}, "y": {"field": "g", "type": "nominal", "scale": {"type": "point", "domain": ["yes", "no"], "range": [146, 160], "padding": 0}, "axis": null},
    "text": {"field": "n", "type": "quantitative"}}}
 ],
 "resolve": {"scale": {"y": "independent"}}},
{"width": 142, "height": 102, "title": {"text": "D"},
 "layer": [
  {"layer": [
   {"data": {"name": "km"}, "transform": [{"filter": "datum.p=='D'"}], "mark": {"type": "line", "interpolate": "step-after", "strokeWidth": 1.5},
    "encoding": {"x": {"field": "t", "type": "quantitative", "scale": {"domain": [0, 60], "nice": false}, "axis": {"values": [0, 12, 24, 36, 48, 60], "title": "Time (months)"}},
     "y": {"field": "s", "type": "quantitative", "scale": {"domain": [0, 1], "nice": false}, "axis": {"title": "OS (probability)", "values": [0, 0.25, 0.5, 0.75, 1], "format": ".2f"}},
     "color": {"field": "g", "type": "nominal", "scale": {"domain": ["yes", "no"], "range": ["#000000", "#f8481c"]}, "legend": {"title": "ATH cohort-Low RSP", "labelExpr": "datum.label=='yes' ? 'Adjuvant therapy: yes (n=33)' : 'Adjuvant therapy: no (n=47)'"}}}},
   {"data": {"name": "km"}, "transform": [{"filter": "datum.p=='D' && datum.c==1"}], "mark": {"type": "tick", "orient": "vertical", "size": 5, "thickness": 1},
    "encoding": {"x": {"field": "t", "type": "quantitative", "axis": {"values": [0, 12, 24, 36, 48, 60], "title": "Time (months)"}}, "y": {"field": "s", "type": "quantitative", "axis": {"title": "OS (probability)", "values": [0, 0.25, 0.5, 0.75, 1], "format": ".2f"}}, "color": {"field": "g", "type": "nominal", "legend": null}}},
   {"data": {"name": "ann"}, "transform": [{"filter": "datum.p=='D' && datum.k=='a'"}], "mark": {"type": "text", "align": "left", "baseline": "middle"}, "encoding": {"x": {"datum": 1.7, "axis": {"values": [0, 12, 24, 36, 48, 60], "title": "Time (months)"}}, "y": {"datum": 0.22, "axis": {"title": "OS (probability)", "values": [0, 0.25, 0.5, 0.75, 1], "format": ".2f"}}, "text": {"field": "txt", "type": "nominal"}}},
   {"data": {"name": "ann"}, "transform": [{"filter": "datum.p=='D' && datum.k=='b'"}], "mark": {"type": "text", "align": "left", "baseline": "middle", "fontStyle": "italic", "dx": 57.5}, "encoding": {"x": {"datum": 1.7, "axis": {"values": [0, 12, 24, 36, 48, 60], "title": "Time (months)"}}, "y": {"datum": 0.22, "axis": {"title": "OS (probability)", "values": [0, 0.25, 0.5, 0.75, 1], "format": ".2f"}}, "text": {"field": "txt", "type": "nominal"}}},
   {"data": {"name": "ann"}, "transform": [{"filter": "datum.p=='D' && datum.k=='c'"}], "mark": {"type": "text", "align": "left", "baseline": "middle", "dx": 62.5}, "encoding": {"x": {"datum": 1.7, "axis": {"values": [0, 12, 24, 36, 48, 60], "title": "Time (months)"}}, "y": {"datum": 0.22, "axis": {"title": "OS (probability)", "values": [0, 0.25, 0.5, 0.75, 1], "format": ".2f"}}, "text": {"field": "txt", "type": "nominal"}}},
   {"data": {"name": "ann"}, "transform": [{"filter": "datum.p=='D' && datum.k=='d'"}], "mark": {"type": "text", "align": "left", "baseline": "middle"}, "encoding": {"x": {"datum": 1.7, "axis": {"values": [0, 12, 24, 36, 48, 60], "title": "Time (months)"}}, "y": {"datum": 0.072, "axis": {"title": "OS (probability)", "values": [0, 0.25, 0.5, 0.75, 1], "format": ".2f"}}, "text": {"field": "txt", "type": "nominal"}}}
  ]},
  {"data": {"name": "risk"}, "transform": [{"filter": "datum.p=='D'"}], "mark": {"type": "text", "align": "center", "baseline": "middle"},
   "encoding": {"x": {"field": "t", "type": "quantitative", "axis": {"values": [0, 12, 24, 36, 48, 60], "title": "Time (months)"}}, "y": {"field": "g", "type": "nominal", "scale": {"type": "point", "domain": ["yes", "no"], "range": [146, 160], "padding": 0}, "axis": null},
    "text": {"field": "n", "type": "quantitative"}}}
 ],
 "resolve": {"scale": {"y": "independent"}}},
{"width": 142, "height": 102, "title": {"text": "E"},
 "layer": [
  {"layer": [
   {"data": {"name": "km"}, "transform": [{"filter": "datum.p=='E'"}], "mark": {"type": "line", "interpolate": "step-after", "strokeWidth": 1.5},
    "encoding": {"x": {"field": "t", "type": "quantitative", "scale": {"domain": [0, 60], "nice": false}, "axis": {"values": [0, 12, 24, 36, 48, 60], "title": "Time (months)"}},
     "y": {"field": "s", "type": "quantitative", "scale": {"domain": [0, 1], "nice": false}, "axis": {"title": "PFS (probability)", "values": [0, 0.25, 0.5, 0.75, 1], "format": ".2f"}},
     "color": {"field": "g", "type": "nominal", "scale": {"domain": ["yes", "no"], "range": ["#000000", "#f8481c"]}, "legend": {"title": "CHSUMC cohort-High RSP", "labelExpr": "datum.label=='yes' ? 'Adjuvant therapy: yes (n=54)' : 'Adjuvant therapy: no (n=46)'"}}}},
   {"data": {"name": "km"}, "transform": [{"filter": "datum.p=='E' && datum.c==1"}], "mark": {"type": "tick", "orient": "vertical", "size": 5, "thickness": 1},
    "encoding": {"x": {"field": "t", "type": "quantitative", "axis": {"values": [0, 12, 24, 36, 48, 60], "title": "Time (months)"}}, "y": {"field": "s", "type": "quantitative", "axis": {"title": "PFS (probability)", "values": [0, 0.25, 0.5, 0.75, 1], "format": ".2f"}}, "color": {"field": "g", "type": "nominal", "legend": null}}},
   {"data": {"name": "ann"}, "transform": [{"filter": "datum.p=='E' && datum.k=='a'"}], "mark": {"type": "text", "align": "left", "baseline": "middle"}, "encoding": {"x": {"datum": 1.7, "axis": {"values": [0, 12, 24, 36, 48, 60], "title": "Time (months)"}}, "y": {"datum": 0.22, "axis": {"title": "PFS (probability)", "values": [0, 0.25, 0.5, 0.75, 1], "format": ".2f"}}, "text": {"field": "txt", "type": "nominal"}}},
   {"data": {"name": "ann"}, "transform": [{"filter": "datum.p=='E' && datum.k=='b'"}], "mark": {"type": "text", "align": "left", "baseline": "middle", "fontStyle": "italic", "dx": 57.5}, "encoding": {"x": {"datum": 1.7, "axis": {"values": [0, 12, 24, 36, 48, 60], "title": "Time (months)"}}, "y": {"datum": 0.22, "axis": {"title": "PFS (probability)", "values": [0, 0.25, 0.5, 0.75, 1], "format": ".2f"}}, "text": {"field": "txt", "type": "nominal"}}},
   {"data": {"name": "ann"}, "transform": [{"filter": "datum.p=='E' && datum.k=='c'"}], "mark": {"type": "text", "align": "left", "baseline": "middle", "dx": 62.5}, "encoding": {"x": {"datum": 1.7, "axis": {"values": [0, 12, 24, 36, 48, 60], "title": "Time (months)"}}, "y": {"datum": 0.22, "axis": {"title": "PFS (probability)", "values": [0, 0.25, 0.5, 0.75, 1], "format": ".2f"}}, "text": {"field": "txt", "type": "nominal"}}},
   {"data": {"name": "ann"}, "transform": [{"filter": "datum.p=='E' && datum.k=='d'"}], "mark": {"type": "text", "align": "left", "baseline": "middle"}, "encoding": {"x": {"datum": 1.7, "axis": {"values": [0, 12, 24, 36, 48, 60], "title": "Time (months)"}}, "y": {"datum": 0.085, "axis": {"title": "PFS (probability)", "values": [0, 0.25, 0.5, 0.75, 1], "format": ".2f"}}, "text": {"field": "txt", "type": "nominal"}}}
  ]},
  {"data": {"name": "risk"}, "transform": [{"filter": "datum.p=='E'"}], "mark": {"type": "text", "align": "center", "baseline": "middle"},
   "encoding": {"x": {"field": "t", "type": "quantitative", "axis": {"values": [0, 12, 24, 36, 48, 60], "title": "Time (months)"}}, "y": {"field": "g", "type": "nominal", "scale": {"type": "point", "domain": ["yes", "no"], "range": [142, 153], "padding": 0},
     "axis": {"orient": "left", "domain": false, "ticks": false, "labelPadding": 14, "labelExpr": "datum.value + ':'", "title": "No. at risk", "titleAngle": 0, "titleAlign": "left", "titleBaseline": "middle", "titleX": -54, "titleY": 126, "titleFontSize": 9}},
    "text": {"field": "n", "type": "quantitative"}}}
 ],
 "resolve": {"scale": {"y": "independent"}}},
{"width": 142, "height": 102, "title": {"text": "F"},
 "layer": [
  {"layer": [
   {"data": {"name": "km"}, "transform": [{"filter": "datum.p=='F'"}], "mark": {"type": "line", "interpolate": "step-after", "strokeWidth": 1.5},
    "encoding": {"x": {"field": "t", "type": "quantitative", "scale": {"domain": [0, 60], "nice": false}, "axis": {"values": [0, 12, 24, 36, 48, 60], "title": "Time (months)"}},
     "y": {"field": "s", "type": "quantitative", "scale": {"domain": [0, 1], "nice": false}, "axis": {"title": "PFS (probability)", "values": [0, 0.25, 0.5, 0.75, 1], "format": ".2f"}},
     "color": {"field": "g", "type": "nominal", "scale": {"domain": ["yes", "no"], "range": ["#000000", "#f8481c"]}, "legend": {"title": "CHSUMC cohort-Low RSP", "labelExpr": "datum.label=='yes' ? 'Adjuvant therapy: yes (n=41)' : 'Adjuvant therapy: no (n=59)'"}}}},
   {"data": {"name": "km"}, "transform": [{"filter": "datum.p=='F' && datum.c==1"}], "mark": {"type": "tick", "orient": "vertical", "size": 5, "thickness": 1},
    "encoding": {"x": {"field": "t", "type": "quantitative", "axis": {"values": [0, 12, 24, 36, 48, 60], "title": "Time (months)"}}, "y": {"field": "s", "type": "quantitative", "axis": {"title": "PFS (probability)", "values": [0, 0.25, 0.5, 0.75, 1], "format": ".2f"}}, "color": {"field": "g", "type": "nominal", "legend": null}}},
   {"data": {"name": "ann"}, "transform": [{"filter": "datum.p=='F' && datum.k=='a'"}], "mark": {"type": "text", "align": "left", "baseline": "middle"}, "encoding": {"x": {"datum": 1.7, "axis": {"values": [0, 12, 24, 36, 48, 60], "title": "Time (months)"}}, "y": {"datum": 0.21, "axis": {"title": "PFS (probability)", "values": [0, 0.25, 0.5, 0.75, 1], "format": ".2f"}}, "text": {"field": "txt", "type": "nominal"}}},
   {"data": {"name": "ann"}, "transform": [{"filter": "datum.p=='F' && datum.k=='b'"}], "mark": {"type": "text", "align": "left", "baseline": "middle", "fontStyle": "italic", "dx": 57.5}, "encoding": {"x": {"datum": 1.7, "axis": {"values": [0, 12, 24, 36, 48, 60], "title": "Time (months)"}}, "y": {"datum": 0.21, "axis": {"title": "PFS (probability)", "values": [0, 0.25, 0.5, 0.75, 1], "format": ".2f"}}, "text": {"field": "txt", "type": "nominal"}}},
   {"data": {"name": "ann"}, "transform": [{"filter": "datum.p=='F' && datum.k=='c'"}], "mark": {"type": "text", "align": "left", "baseline": "middle", "dx": 62.5}, "encoding": {"x": {"datum": 1.7, "axis": {"values": [0, 12, 24, 36, 48, 60], "title": "Time (months)"}}, "y": {"datum": 0.21, "axis": {"title": "PFS (probability)", "values": [0, 0.25, 0.5, 0.75, 1], "format": ".2f"}}, "text": {"field": "txt", "type": "nominal"}}},
   {"data": {"name": "ann"}, "transform": [{"filter": "datum.p=='F' && datum.k=='d'"}], "mark": {"type": "text", "align": "left", "baseline": "middle"}, "encoding": {"x": {"datum": 1.7, "axis": {"values": [0, 12, 24, 36, 48, 60], "title": "Time (months)"}}, "y": {"datum": 0.075, "axis": {"title": "PFS (probability)", "values": [0, 0.25, 0.5, 0.75, 1], "format": ".2f"}}, "text": {"field": "txt", "type": "nominal"}}}
  ]},
  {"data": {"name": "risk"}, "transform": [{"filter": "datum.p=='F'"}], "mark": {"type": "text", "align": "center", "baseline": "middle"},
   "encoding": {"x": {"field": "t", "type": "quantitative", "axis": {"values": [0, 12, 24, 36, 48, 60], "title": "Time (months)"}}, "y": {"field": "g", "type": "nominal", "scale": {"type": "point", "domain": ["yes", "no"], "range": [142, 153], "padding": 0}, "axis": null},
    "text": {"field": "n", "type": "quantitative"}}}
 ],
 "resolve": {"scale": {"y": "independent"}}},
{"width": 142, "height": 102, "title": {"text": "G"},
 "layer": [
  {"layer": [
   {"data": {"name": "km"}, "transform": [{"filter": "datum.p=='G'"}], "mark": {"type": "line", "interpolate": "step-after", "strokeWidth": 1.5},
    "encoding": {"x": {"field": "t", "type": "quantitative", "scale": {"domain": [0, 60], "nice": false}, "axis": {"values": [0, 12, 24, 36, 48, 60], "title": "Time (months)"}},
     "y": {"field": "s", "type": "quantitative", "scale": {"domain": [0, 1], "nice": false}, "axis": {"title": "PFS (probability)", "values": [0, 0.25, 0.5, 0.75, 1], "format": ".2f"}},
     "color": {"field": "g", "type": "nominal", "scale": {"domain": ["yes", "no"], "range": ["#000000", "#f8481c"]}, "legend": {"title": "ATH cohort-High RSP", "labelExpr": "datum.label=='yes' ? 'Adjuvant therapy: yes (n=22)' : 'Adjuvant therapy: no (n=38)'"}}}},
   {"data": {"name": "km"}, "transform": [{"filter": "datum.p=='G' && datum.c==1"}], "mark": {"type": "tick", "orient": "vertical", "size": 5, "thickness": 1},
    "encoding": {"x": {"field": "t", "type": "quantitative", "axis": {"values": [0, 12, 24, 36, 48, 60], "title": "Time (months)"}}, "y": {"field": "s", "type": "quantitative", "axis": {"title": "PFS (probability)", "values": [0, 0.25, 0.5, 0.75, 1], "format": ".2f"}}, "color": {"field": "g", "type": "nominal", "legend": null}}},
   {"data": {"name": "ann"}, "transform": [{"filter": "datum.p=='G' && datum.k=='a'"}], "mark": {"type": "text", "align": "left", "baseline": "middle"}, "encoding": {"x": {"datum": 1.4, "axis": {"values": [0, 12, 24, 36, 48, 60], "title": "Time (months)"}}, "y": {"datum": 0.215, "axis": {"title": "PFS (probability)", "values": [0, 0.25, 0.5, 0.75, 1], "format": ".2f"}}, "text": {"field": "txt", "type": "nominal"}}},
   {"data": {"name": "ann"}, "transform": [{"filter": "datum.p=='G' && datum.k=='b'"}], "mark": {"type": "text", "align": "left", "baseline": "middle", "fontStyle": "italic", "dx": 57.5}, "encoding": {"x": {"datum": 1.4, "axis": {"values": [0, 12, 24, 36, 48, 60], "title": "Time (months)"}}, "y": {"datum": 0.215, "axis": {"title": "PFS (probability)", "values": [0, 0.25, 0.5, 0.75, 1], "format": ".2f"}}, "text": {"field": "txt", "type": "nominal"}}},
   {"data": {"name": "ann"}, "transform": [{"filter": "datum.p=='G' && datum.k=='c'"}], "mark": {"type": "text", "align": "left", "baseline": "middle", "dx": 62.5}, "encoding": {"x": {"datum": 1.4, "axis": {"values": [0, 12, 24, 36, 48, 60], "title": "Time (months)"}}, "y": {"datum": 0.215, "axis": {"title": "PFS (probability)", "values": [0, 0.25, 0.5, 0.75, 1], "format": ".2f"}}, "text": {"field": "txt", "type": "nominal"}}},
   {"data": {"name": "ann"}, "transform": [{"filter": "datum.p=='G' && datum.k=='d'"}], "mark": {"type": "text", "align": "left", "baseline": "middle"}, "encoding": {"x": {"datum": 1.4, "axis": {"values": [0, 12, 24, 36, 48, 60], "title": "Time (months)"}}, "y": {"datum": 0.085, "axis": {"title": "PFS (probability)", "values": [0, 0.25, 0.5, 0.75, 1], "format": ".2f"}}, "text": {"field": "txt", "type": "nominal"}}}
  ]},
  {"data": {"name": "risk"}, "transform": [{"filter": "datum.p=='G'"}], "mark": {"type": "text", "align": "center", "baseline": "middle"},
   "encoding": {"x": {"field": "t", "type": "quantitative", "axis": {"values": [0, 12, 24, 36, 48, 60], "title": "Time (months)"}}, "y": {"field": "g", "type": "nominal", "scale": {"type": "point", "domain": ["yes", "no"], "range": [142, 153], "padding": 0}, "axis": null},
    "text": {"field": "n", "type": "quantitative"}}}
 ],
 "resolve": {"scale": {"y": "independent"}}},
{"width": 142, "height": 102, "title": {"text": "H"},
 "layer": [
  {"layer": [
   {"data": {"name": "km"}, "transform": [{"filter": "datum.p=='H'"}], "mark": {"type": "line", "interpolate": "step-after", "strokeWidth": 1.5},
    "encoding": {"x": {"field": "t", "type": "quantitative", "scale": {"domain": [0, 60], "nice": false}, "axis": {"values": [0, 12, 24, 36, 48, 60], "title": "Time (months)"}},
     "y": {"field": "s", "type": "quantitative", "scale": {"domain": [0, 1], "nice": false}, "axis": {"title": "PFS (probability)", "values": [0, 0.25, 0.5, 0.75, 1], "format": ".2f"}},
     "color": {"field": "g", "type": "nominal", "scale": {"domain": ["yes", "no"], "range": ["#000000", "#f8481c"]}, "legend": {"title": "ATH cohort-Low RSP", "labelExpr": "datum.label=='yes' ? 'Adjuvant therapy: yes (n=33)' : 'Adjuvant therapy: no (n=47)'"}}}},
   {"data": {"name": "km"}, "transform": [{"filter": "datum.p=='H' && datum.c==1"}], "mark": {"type": "tick", "orient": "vertical", "size": 5, "thickness": 1},
    "encoding": {"x": {"field": "t", "type": "quantitative", "axis": {"values": [0, 12, 24, 36, 48, 60], "title": "Time (months)"}}, "y": {"field": "s", "type": "quantitative", "axis": {"title": "PFS (probability)", "values": [0, 0.25, 0.5, 0.75, 1], "format": ".2f"}}, "color": {"field": "g", "type": "nominal", "legend": null}}},
   {"data": {"name": "ann"}, "transform": [{"filter": "datum.p=='H' && datum.k=='a'"}], "mark": {"type": "text", "align": "left", "baseline": "middle"}, "encoding": {"x": {"datum": 1.4, "axis": {"values": [0, 12, 24, 36, 48, 60], "title": "Time (months)"}}, "y": {"datum": 0.215, "axis": {"title": "PFS (probability)", "values": [0, 0.25, 0.5, 0.75, 1], "format": ".2f"}}, "text": {"field": "txt", "type": "nominal"}}},
   {"data": {"name": "ann"}, "transform": [{"filter": "datum.p=='H' && datum.k=='b'"}], "mark": {"type": "text", "align": "left", "baseline": "middle", "fontStyle": "italic", "dx": 57.5}, "encoding": {"x": {"datum": 1.4, "axis": {"values": [0, 12, 24, 36, 48, 60], "title": "Time (months)"}}, "y": {"datum": 0.215, "axis": {"title": "PFS (probability)", "values": [0, 0.25, 0.5, 0.75, 1], "format": ".2f"}}, "text": {"field": "txt", "type": "nominal"}}},
   {"data": {"name": "ann"}, "transform": [{"filter": "datum.p=='H' && datum.k=='c'"}], "mark": {"type": "text", "align": "left", "baseline": "middle", "dx": 62.5}, "encoding": {"x": {"datum": 1.4, "axis": {"values": [0, 12, 24, 36, 48, 60], "title": "Time (months)"}}, "y": {"datum": 0.215, "axis": {"title": "PFS (probability)", "values": [0, 0.25, 0.5, 0.75, 1], "format": ".2f"}}, "text": {"field": "txt", "type": "nominal"}}},
   {"data": {"name": "ann"}, "transform": [{"filter": "datum.p=='H' && datum.k=='d'"}], "mark": {"type": "text", "align": "left", "baseline": "middle"}, "encoding": {"x": {"datum": 1.4, "axis": {"values": [0, 12, 24, 36, 48, 60], "title": "Time (months)"}}, "y": {"datum": 0.09, "axis": {"title": "PFS (probability)", "values": [0, 0.25, 0.5, 0.75, 1], "format": ".2f"}}, "text": {"field": "txt", "type": "nominal"}}}
  ]},
  {"data": {"name": "risk"}, "transform": [{"filter": "datum.p=='H'"}], "mark": {"type": "text", "align": "center", "baseline": "middle"},
   "encoding": {"x": {"field": "t", "type": "quantitative", "axis": {"values": [0, 12, 24, 36, 48, 60], "title": "Time (months)"}}, "y": {"field": "g", "type": "nominal", "scale": {"type": "point", "domain": ["yes", "no"], "range": [142, 153], "padding": 0}, "axis": null},
    "text": {"field": "n", "type": "quantitative"}}}
 ],
 "resolve": {"scale": {"y": "independent"}}}
]
}
